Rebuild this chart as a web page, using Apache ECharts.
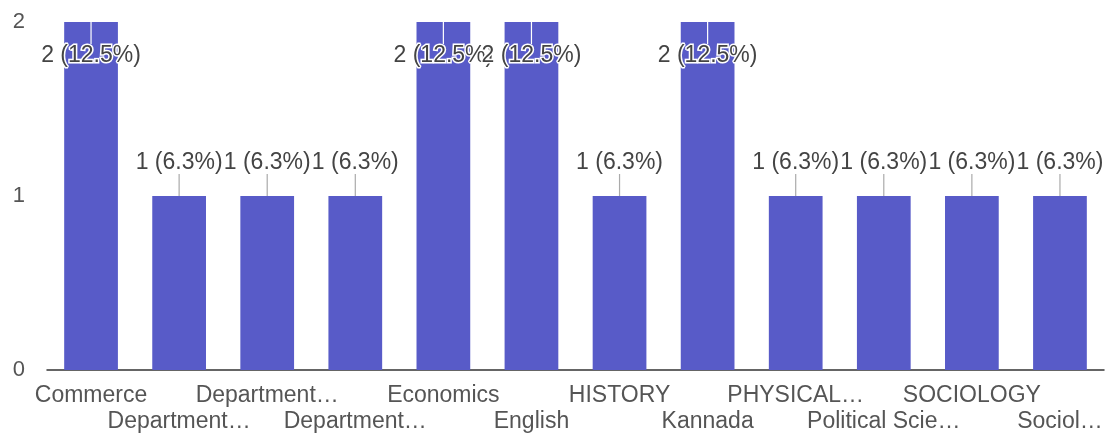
<!DOCTYPE html>
<html><head><meta charset="utf-8">
<script src="https://cdn.jsdelivr.net/npm/echarts@6/dist/echarts.min.js"></script>
<style>html,body{margin:0;padding:0;background:#fff}#c{width:1111px;height:442px}</style>
</head><body><div id="c"></div>
<script>
var categories = ['Commerce','Department…','Department…','Department…','Economics','English','HISTORY','Kannada','PHYSICAL…','Political Scie…','SOCIOLOGY','Sociol…'];
var values = [2,1,1,1,2,2,1,2,1,1,1,1];
var yTicks = [0,1,2];
var total = values.reduce(function(a,b){return a+b;},0);
var FONT = 'Liberation Sans, Arial, sans-serif';
var chart = echarts.init(document.getElementById('c'));
chart.setOption({
  animation:false,
  grid:{left:47,right:7,top:22,bottom:72},
  xAxis:{type:'category',data:categories,
    axisLine:{lineStyle:{color:'#333',width:1.5}},axisTick:{show:false},
    axisLabel:{interval:0,color:'#555',fontFamily:FONT,fontSize:23,lineHeight:26,margin:13,
      formatter:function(v,i){return i%2? '\n'+v : v;}}},
  yAxis:{type:'value',min:0,max:2,interval:1,
    axisLine:{show:false},axisTick:{show:false},splitLine:{show:false},
    axisLabel:{color:'#555',fontFamily:FONT,fontSize:22,margin:22,
      formatter:function(v){return yTicks.indexOf(v)>=0? String(v):'';}}},
  series:[
    {type:'bar',data:values,barWidth:'61%',itemStyle:{color:'#585bc8'}},
    {type:'custom',data:values.map(function(v,i){return [i,v];}),z:10,
      renderItem:function(params,api){
        var idx=api.value(0), v=api.value(1);
        var p=api.coord([idx,v]);
        var top=params.coordSys.y;
        var inside = (p[1]-46) < top;
        var ly = inside ? p[1]+34 : p[1]-33;
        var pct = (v/total*100).toFixed(1);
        var txt = v+' ('+pct+'%)';
        var line = inside ? {x1:p[0],y1:p[1],x2:p[0],y2:p[1]+22} : {x1:p[0],y1:p[1]-22,x2:p[0],y2:p[1]};
        return {type:'group',children:[
          {type:'line',shape:line,style:{stroke:inside?'#fff':'#aaa',lineWidth:1.2}},
          {type:'text',x:p[0],y:ly,style:{text:txt,x:0,y:0,textAlign:'center',textVerticalAlign:'middle',
            fill:'#444',font:'23px '+FONT,stroke:inside?'#fff':null,lineWidth:inside?3:0}}
        ]};
      }}
  ]
});
</script></body></html>
